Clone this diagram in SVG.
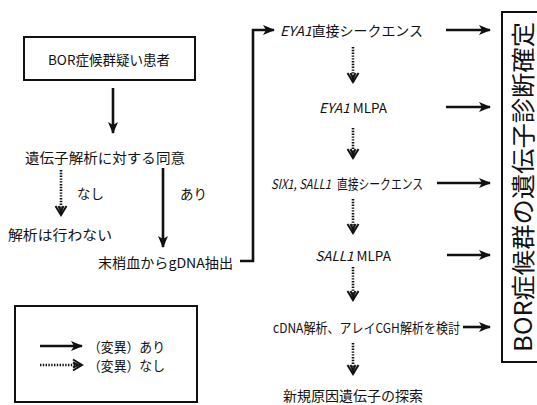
<svg xmlns="http://www.w3.org/2000/svg" width="537" height="405" viewBox="0 0 537 405">
<style>
text{font-family:"Noto Sans CJK JP","Noto Sans",sans-serif;font-size:13.5px;fill:#111;dominant-baseline:central}
.box{fill:#fff;stroke:#111;stroke-width:2}
.s{fill:none;stroke:#111;stroke-width:2.6}
.d{fill:none;stroke:#111;stroke-width:2.6;stroke-dasharray:1.4 1.4}
.it{font-style:italic}
</style>
<defs>
<marker id="ah" markerUnits="userSpaceOnUse" markerWidth="14" markerHeight="12" refX="11" refY="6" orient="auto">
<path d="M0,1 L12,6 L0,11 L3,6 z" fill="#111"/>
</marker>
<marker id="ad" markerUnits="userSpaceOnUse" markerWidth="14" markerHeight="14" refX="10" refY="7" orient="auto">
<path d="M1,1.5 L10,7 L1,12.5 M1,4.5 L6,7 L1,9.5" fill="none" stroke="#111" stroke-width="2"/>
</marker>
</defs>
<rect width="537" height="405" fill="#fff"/>
<g id="connectors">
<line class="s" x1="113" y1="88" x2="113" y2="133" marker-end="url(#ah)"/>
<line class="d" x1="61" y1="170" x2="61" y2="215" marker-end="url(#ad)"/>
<line class="s" x1="163" y1="168" x2="163" y2="247" marker-end="url(#ah)"/>
<polyline class="s" points="240,261 253,261 253,30 274,30" marker-end="url(#ah)"/>
<line class="s" x1="446" y1="30" x2="490" y2="30" marker-end="url(#ah)"/>
<line class="s" x1="446" y1="107" x2="490" y2="107" marker-end="url(#ah)"/>
<line class="s" x1="437" y1="183" x2="490" y2="183" marker-end="url(#ah)"/>
<line class="s" x1="447" y1="255" x2="490" y2="255" marker-end="url(#ah)"/>
<line class="s" x1="463" y1="327" x2="490" y2="327" marker-end="url(#ah)"/>
<line class="d" x1="353" y1="47" x2="353" y2="82" marker-end="url(#ad)"/>
<line class="d" x1="353" y1="128" x2="353" y2="158" marker-end="url(#ad)"/>
<line class="d" x1="353" y1="199" x2="353" y2="233" marker-end="url(#ad)"/>
<line class="d" x1="353" y1="267" x2="353" y2="300" marker-end="url(#ad)"/>
<line class="d" x1="353" y1="343" x2="353" y2="374" marker-end="url(#ad)"/>
</g>
<g id="n-patient">
<rect class="box" x="24" y="37" width="171" height="43"/>
<text x="109" y="59" text-anchor="middle" textLength="122" lengthAdjust="spacingAndGlyphs">BOR症候群疑い患者</text>
</g>
<g id="n-consent"><text x="25" y="157" textLength="160" lengthAdjust="spacingAndGlyphs">遺伝子解析に対する同意</text></g>
<g id="l-nashi"><text x="77" y="193">なし</text></g>
<g id="l-ari"><text x="180" y="193">あり</text></g>
<g id="n-none"><text x="8" y="234" textLength="104" lengthAdjust="spacingAndGlyphs">解析は行わない</text></g>
<g id="n-gdna"><text x="98" y="262" textLength="135" lengthAdjust="spacingAndGlyphs">末梢血からgDNA抽出</text></g>
<g id="n-eya1seq"><text x="280" y="30" textLength="143" lengthAdjust="spacingAndGlyphs"><tspan class="it">EYA1</tspan>直接シークエンス</text></g>
<g id="n-eya1mlpa"><text x="353" y="107" text-anchor="middle"><tspan class="it">EYA1</tspan> MLPA</text></g>
<g id="n-six1">
<text class="it" x="271" y="183" textLength="60" lengthAdjust="spacingAndGlyphs">SIX1, SALL1</text>
<text x="337" y="183" textLength="86" lengthAdjust="spacingAndGlyphs">直接シークエンス</text>
</g>
<g id="n-sall1mlpa"><text x="353" y="255" text-anchor="middle"><tspan class="it">SALL1</tspan> MLPA</text></g>
<g id="n-cdna"><text x="273" y="327" textLength="187" lengthAdjust="spacingAndGlyphs">cDNA解析、アレイCGH解析を検討</text></g>
<g id="n-novel"><text x="283" y="395" textLength="140" lengthAdjust="spacingAndGlyphs">新規原因遺伝子の探索</text></g>
<g id="n-diagnosis">
<rect class="box" x="502" y="12" width="45" height="350"/>
<text x="0" y="0" transform="translate(521,187) rotate(-90)" text-anchor="middle" style="font-size:24px" textLength="330" lengthAdjust="spacingAndGlyphs">BOR症候群の遺伝子診断確定</text>
</g>
<g id="legend">
<rect class="box" x="15" y="306" width="182" height="96"/>
<line class="s" x1="40" y1="346" x2="82" y2="346" marker-end="url(#ah)"/>
<line class="d" x1="40" y1="365" x2="82" y2="365" marker-end="url(#ad)"/>
<text x="88" y="346" textLength="77" lengthAdjust="spacingAndGlyphs">（変異）あり</text>
<text x="88" y="365" textLength="77" lengthAdjust="spacingAndGlyphs">（変異）なし</text>
</g>
</svg>
